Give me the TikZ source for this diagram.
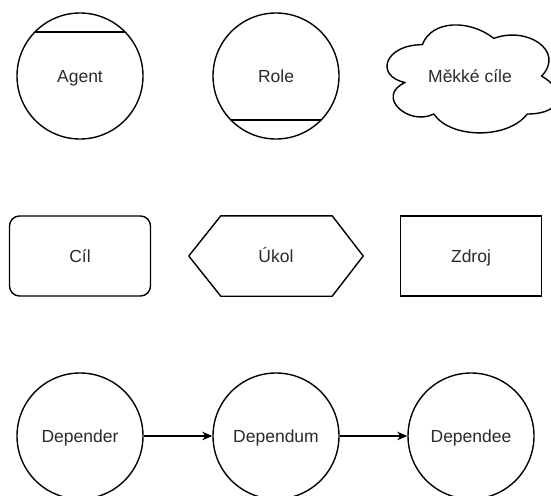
\documentclass[tikz,border=0pt]{standalone}
\usepackage{fontspec}
\setmainfont{Liberation Sans}
\usetikzlibrary{arrows.meta}
\definecolor{txt}{HTML}{2A2A2A}
\tikzset{
  every node/.style={font=\fontsize{17.5}{20}\selectfont, text=txt, text height=13pt, text depth=1pt},
  shapeline/.style={draw=black, line width=1.4pt},
  actor/.style={shapeline, circle, minimum size=126pt, inner sep=0pt},
  boxnode/.style={shapeline, rectangle, minimum width=141pt, minimum height=80pt, inner sep=0pt},
  bare/.style={rectangle, inner sep=0pt},
  link/.style={line width=1.4pt, -{Stealth[length=10pt,width=8.5pt,inset=3pt]}}
}
\begin{document}
\begin{tikzpicture}[x=1pt,y=-1pt]
\clip (0,0) rectangle (551,495);
\fill[white] (0,0) rectangle (551,495);
% Row 1
\node[actor] (agent) at (80,76) {Agent};
\draw[shapeline] ([shift={(-45,-44)}]agent.center) -- ([shift={(45,-44)}]agent.center);
\node[actor] (role) at (276,76) {Role};
\draw[shapeline] ([shift={(-45,44)}]role.center) -- ([shift={(45,44)}]role.center);
% cloud (x0=374.6, w=190.8, y0=13.2, h=126)
\begin{scope}[shift={(374.6,13.2)}, x=190.8pt, y=-126pt]
\draw[shapeline, line join=round]
  (0.25,0.25) .. controls (0.05,0.25) and (0,0.5) .. (0.16,0.55)
  .. controls (0,0.66) and (0.18,0.9) .. (0.31,0.8)
  .. controls (0.4,1) and (0.7,1) .. (0.8,0.8)
  .. controls (1,0.8) and (1,0.6) .. (0.875,0.5)
  .. controls (1,0.3) and (0.8,0.1) .. (0.625,0.2)
  .. controls (0.5,0.05) and (0.3,0.05) .. (0.25,0.25) -- cycle;
\end{scope}
\node[bare] (soft) at (470,76) {Měkké cíle};
% Row 2
\node[boxnode, rounded corners=10pt] (goal) at (80,256) {Cíl};
\node[bare, minimum width=174pt, minimum height=80pt] (task) at (276,256) {Úkol};
\draw[shapeline, line join=round] (task.west) -- ([xshift=32pt]task.north west) -- ([xshift=-31pt]task.north east) -- (task.east) -- ([xshift=-31pt]task.south east) -- ([xshift=32pt]task.south west) -- cycle;
\node[boxnode] (res) at (471,256) {Zdroj};
% Row 3
\node[actor] (depender) at (80,436) {Depender};
\node[actor] (dependum) at (276,436) {Dependum};
\node[actor] (dependee) at (471,436) {Dependee};
\draw[link] (depender) -- (dependum);
\draw[link] (dependum) -- (dependee);
\end{tikzpicture}
\end{document}
